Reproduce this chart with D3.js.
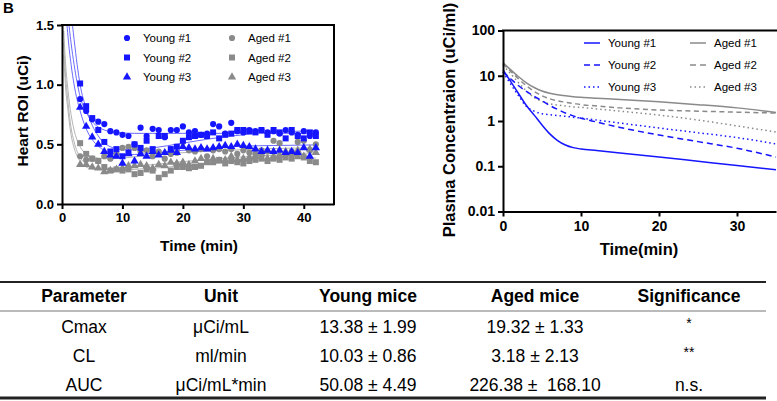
<!DOCTYPE html>
<html><head><meta charset="utf-8">
<script src="https://cdn.jsdelivr.net/npm/d3@7/dist/d3.min.js"></script>
<style>
body{margin:0;background:#fff;}
svg{display:block;font-family:"Liberation Sans",Arial,sans-serif;}
</style></head>
<body><svg id="c" width="777" height="401"></svg>
<script>
// ---------- Panel 1: Heart ROI ----------
const heartTime = [3,4,5,6,7,8,9,10,11,12,13,14,15,16,17,18,19,20,21,22,23,24,25,26,27,28,29,30,31,32,33,34,35,36,37,38,39,40,41,42];
const young1 = [0.88,0.78,0.71,0.69,0.67,0.61,0.60,0.58,0.57,0.50,0.64,0.57,0.63,0.62,0.56,0.62,0.62,0.65,0.60,0.61,0.58,0.59,0.67,0.65,0.59,0.68,0.61,0.60,0.62,0.61,0.62,0.60,0.61,0.59,0.62,0.60,0.58,0.61,0.57,0.60];
const young2 = [1.01,0.82,0.72,0.62,0.52,0.44,0.46,0.40,0.43,0.50,0.47,0.53,0.46,0.57,0.57,0.46,0.48,0.53,0.56,0.57,0.58,0.57,0.60,0.55,0.58,0.59,0.62,0.62,0.61,0.60,0.62,0.58,0.62,0.60,0.55,0.62,0.57,0.55,0.60,0.57];
const young3 = [0.81,0.65,0.56,0.50,0.44,0.41,0.40,0.34,0.42,0.36,0.42,0.40,0.44,0.41,0.43,0.45,0.43,0.48,0.47,0.46,0.47,0.46,0.47,0.48,0.49,0.48,0.50,0.49,0.48,0.46,0.44,0.45,0.44,0.45,0.43,0.44,0.43,0.47,0.40,0.47];
const aged1  = [0.40,0.37,0.38,0.36,0.40,0.38,0.42,0.47,0.48,0.47,0.44,0.45,0.40,0.44,0.38,0.42,0.43,0.52,0.45,0.44,0.46,0.40,0.45,0.46,0.44,0.46,0.42,0.45,0.43,0.42,0.45,0.44,0.53,0.51,0.42,0.44,0.52,0.53,0.45,0.50];
const aged2  = [0.51,0.42,0.38,0.36,0.31,0.28,0.29,0.28,0.29,0.25,0.26,0.29,0.28,0.22,0.25,0.28,0.31,0.31,0.30,0.31,0.32,0.35,0.35,0.37,0.34,0.36,0.35,0.34,0.36,0.37,0.38,0.36,0.38,0.37,0.39,0.38,0.40,0.39,0.36,0.35];
const aged3  = [0.33,0.33,0.31,0.30,0.27,0.28,0.29,0.30,0.32,0.32,0.33,0.32,0.30,0.33,0.32,0.35,0.34,0.35,0.33,0.36,0.38,0.35,0.38,0.36,0.37,0.40,0.37,0.38,0.39,0.40,0.42,0.38,0.40,0.41,0.44,0.42,0.45,0.40,0.46,0.43];

const fitTime = [0.3,0.5,1,1.5,2,3,4,5,6,7,8,10,12,15,20,25,30,35,42];
const young1Fit = [2.4,2.1,1.6,1.35,1.17,0.90,0.77,0.69,0.645,0.62,0.605,0.595,0.592,0.592,0.592,0.592,0.592,0.592,0.592];
const young2Fit = [2.9,2.6,2.0,1.62,1.38,1.0,0.80,0.66,0.57,0.51,0.48,0.455,0.455,0.47,0.51,0.55,0.58,0.60,0.615];
const young3Fit = [2.0,1.75,1.4,1.17,1.0,0.78,0.63,0.54,0.485,0.45,0.43,0.415,0.415,0.425,0.45,0.47,0.485,0.49,0.495];
const aged1Fit  = [1.45,1.25,0.95,0.75,0.62,0.48,0.42,0.395,0.385,0.38,0.38,0.385,0.395,0.41,0.43,0.445,0.455,0.465,0.47];
const aged2Fit  = [1.35,1.15,0.85,0.64,0.52,0.39,0.335,0.31,0.295,0.29,0.285,0.285,0.29,0.30,0.32,0.34,0.36,0.375,0.385];
const aged3Fit  = [1.25,1.05,0.78,0.58,0.47,0.36,0.31,0.295,0.29,0.29,0.295,0.305,0.315,0.33,0.355,0.375,0.395,0.41,0.43];

const heartXTicks = [0,10,20,30,40];
const heartYTicks = [0,0.5,1.0,1.5];
const seriesNames = ["Young #1","Young #2","Young #3","Aged #1","Aged #2","Aged #3"];

// ---------- Panel 2: Plasma concentration ----------
const plasmaTime = [0,1,2,3,4,5,6,7,8,9,10,12,15,20,25,30,35];
const pYoung1 = [13.4,7.4,4.0,2.2,1.35,0.82,0.52,0.37,0.295,0.258,0.24,0.222,0.197,0.16,0.129,0.104,0.084];
const pYoung2 = [12.2,8.5,6.0,4.5,3.5,2.8,2.2,1.8,1.5,1.3,1.15,0.95,0.72,0.49,0.35,0.25,0.16];
const pYoung3 = [12.0,6.5,3.6,2.1,1.65,1.45,1.38,1.32,1.27,1.21,1.16,1.05,0.9,0.7,0.55,0.43,0.31];
const pAged1  = [19.3,13.5,9.5,7.0,5.5,4.6,4.1,3.8,3.6,3.45,3.35,3.2,3.0,2.65,2.3,1.95,1.55];
const pAged2  = [18.5,12.5,8.5,6.0,4.5,3.6,3.1,2.8,2.6,2.45,2.3,2.15,1.95,1.75,1.65,1.57,1.5];
const pAged3  = [17.0,11.0,7.0,4.6,3.3,2.7,2.4,2.25,2.15,2.05,2.0,1.85,1.65,1.35,1.05,0.78,0.57];
const plasmaXTicks = [0,10,20,30];
const plasmaYTicks = [0.01,0.1,1,10,100];

// ---------- Table ----------
const tableHeader = ["Parameter","Unit","Young mice","Aged mice","Significance"];
const tableParams = ["Cmax","CL","AUC"];
const tableUnits  = ["μCi/mL","ml/min","μCi/mL*min"];
const tableYoung  = ["13.38 ± 1.99","10.03 ± 0.86","50.08 ± 4.49"];
const tableAged   = ["19.32 ± 1.33","3.18 ± 2.13","226.38 ±  168.10"];
const tableSig    = ["*","**","n.s."];

const BLUE = "#1515ff", BLUE_FIT = "#6a6aff", GRAY = "#8a8a8a", GRAY_FIT = "#b4b4b4";
const svg = d3.select("#c");

// Panel label
svg.append("text").attr("x",3).attr("y",13).attr("font-size",15).attr("font-weight","bold").text("B");

// ===== Left chart =====
const x1 = d3.scaleLinear().domain([0,45]).range([62,334]);
const y1 = d3.scaleLinear().domain([0,1.5]).range([204,25]);
const g1 = svg.append("g");
svg.append("defs").append("clipPath").attr("id","clip1").append("rect")
  .attr("x",62).attr("y",25).attr("width",272).attr("height",179);

const fitLine = d3.line().x(d=>x1(d[0])).y(d=>y1(d[1])).curve(d3.curveMonotoneX);
const fits = [[young1Fit,BLUE_FIT],[young2Fit,BLUE_FIT],[young3Fit,BLUE_FIT],[aged1Fit,GRAY_FIT],[aged2Fit,GRAY_FIT],[aged3Fit,GRAY_FIT]];
const plot1 = g1.append("g").attr("clip-path","url(#clip1)");
fits.forEach(([arr,col])=>{
  plot1.append("path").datum(fitTime.map((t,i)=>[t,arr[i]]))
    .attr("d",fitLine).attr("fill","none").attr("stroke",col).attr("stroke-width",1);
});
const symTypes = [d3.symbolCircle,d3.symbolSquare,d3.symbolTriangle];
const symSizes = [30,36,30];
const pts = [[aged1,GRAY,0],[aged2,GRAY,1],[aged3,GRAY,2],[young1,BLUE,0],[young2,BLUE,1],[young3,BLUE,2]];
pts.forEach(([arr,col,s])=>{
  plot1.append("g").selectAll("path").data(heartTime.map((t,i)=>[t,arr[i]])).join("path")
    .attr("transform",d=>`translate(${x1(d[0])},${y1(d[1])})`)
    .attr("d",d3.symbol().type(symTypes[s]).size(symSizes[s])).attr("fill",col);
});
// axes
const ax1 = g1.append("g").attr("transform","translate(0,204)")
  .call(d3.axisBottom(x1).tickValues(heartXTicks).tickSize(5).tickSizeOuter(0).tickPadding(4));
const ay1 = g1.append("g").attr("transform","translate(62,0)")
  .call(d3.axisLeft(y1).tickValues(heartYTicks).tickFormat(d3.format(".1f")).tickSize(5).tickSizeOuter(0).tickPadding(3));
[ax1,ay1].forEach(a=>{
  a.select(".domain").attr("stroke","#000").attr("stroke-width",2);
  a.selectAll(".tick line").attr("stroke","#000").attr("stroke-width",2);
  a.selectAll(".tick text").attr("font-size",13).attr("font-weight","bold").attr("fill","#000")
    .attr("font-family","Liberation Sans,Arial,sans-serif");
});
g1.append("line").attr("x1",61).attr("x2",335).attr("y1",25).attr("y2",25).attr("stroke","#000").attr("stroke-width",2);
g1.append("line").attr("x1",334).attr("x2",334).attr("y1",24).attr("y2",205).attr("stroke","#000").attr("stroke-width",2);
g1.append("text").attr("x",199).attr("y",251).attr("text-anchor","middle").attr("font-size",15.5).attr("font-weight","bold").text("Time (min)");
g1.append("text").attr("transform","translate(28,111) rotate(-90)").attr("text-anchor","middle").attr("font-size",15.5).attr("font-weight","bold").text("Heart ROI (uCi)");
// legend
const leg1 = g1.append("g");
seriesNames.forEach((n,i)=>{
  const col = i<3?0:1, row = i%3;
  const mx = col?232:127, ty = 38+row*19.5;
  leg1.append("path").attr("transform",`translate(${mx},${ty})`)
    .attr("d",d3.symbol().type(symTypes[row]).size(symSizes[row])).attr("fill",i<3?BLUE:GRAY);
  leg1.append("text").attr("x",mx+16).attr("y",ty+4).attr("font-size",11.5).text(n);
});

// ===== Right chart =====
const x2 = d3.scaleLinear().domain([0,35]).range([503,776]);
const y2 = d3.scaleLog().domain([0.01,100]).range([211.5,30.5]);
const g2 = svg.append("g");
const pLine = d3.line().x(d=>x2(d[0])).y(d=>y2(d[1])).curve(d3.curveMonotoneX);
const pSeries = [[pAged1,GRAY,null],[pAged2,GRAY,"5,3.5"],[pAged3,GRAY,"1.5,3"],[pYoung1,BLUE,null],[pYoung2,BLUE,"6,4"],[pYoung3,BLUE,"1.5,3"]];
pSeries.forEach(([arr,col,dash])=>{
  g2.append("path").datum(plasmaTime.map((t,i)=>[t,arr[i]])).attr("d",pLine)
    .attr("fill","none").attr("stroke",col).attr("stroke-width",1.5).attr("stroke-dasharray",dash);
});
const ax2 = g2.append("g").attr("transform","translate(0,211.5)")
  .call(d3.axisBottom(x2).tickValues(plasmaXTicks).tickSize(5).tickSizeOuter(0).tickPadding(5));
const ay2 = g2.append("g").attr("transform","translate(503,0)")
  .call(d3.axisLeft(y2).tickValues(plasmaYTicks).tickFormat(d3.format("~g")).tickSize(5).tickSizeOuter(0).tickPadding(3));
[ax2,ay2].forEach(a=>{
  a.select(".domain").attr("stroke","#000").attr("stroke-width",2);
  a.selectAll(".tick line").attr("stroke","#000").attr("stroke-width",2);
  a.selectAll(".tick text").attr("font-size",14).attr("font-weight","bold").attr("fill","#000")
    .attr("font-family","Liberation Sans,Arial,sans-serif");
});
g2.append("line").attr("x1",502).attr("x2",777).attr("y1",30.5).attr("y2",30.5).attr("stroke","#000").attr("stroke-width",2);
g2.append("text").attr("x",639).attr("y",255).attr("text-anchor","middle").attr("font-size",16.5).attr("font-weight","bold").text("Time(min)");
g2.append("text").attr("transform","translate(455,120) rotate(-90)").attr("text-anchor","middle").attr("font-size",16.5).attr("font-weight","bold").text("Plasma Concentraion (uCi/ml)");
const dashes = [null,"6,4","1.5,3"];
seriesNames.forEach((n,i)=>{
  const col = i<3?0:1, row = i%3;
  const lx = col?690:584, ty = 43+row*22;
  g2.append("line").attr("x1",lx).attr("x2",lx+16).attr("y1",ty).attr("y2",ty)
    .attr("stroke",i<3?BLUE:GRAY).attr("stroke-width",1.5).attr("stroke-dasharray",dashes[row]);
  g2.append("text").attr("x",lx+24).attr("y",ty+4).attr("font-size",11.5).text(n);
});

// ===== Table =====
const tg = svg.append("g").attr("font-size",17.5);
const colX = [84,221,368,535,689];
tg.append("line").attr("x1",0).attr("x2",766).attr("y1",282).attr("y2",282).attr("stroke","#222").attr("stroke-width",2);
tg.append("line").attr("x1",0).attr("x2",766).attr("y1",311).attr("y2",311).attr("stroke","#777").attr("stroke-width",1);
tg.append("line").attr("x1",0).attr("x2",766).attr("y1",398).attr("y2",398).attr("stroke","#222").attr("stroke-width",3);
tableHeader.forEach((h,i)=>{
  tg.append("text").attr("x",colX[i]).attr("y",302).attr("text-anchor","middle").attr("font-weight","bold").text(h);
});
const rowY = [333,362,391];
const rows = tableParams.map((p,i)=>[p,tableUnits[i],tableYoung[i],tableAged[i],tableSig[i]]);
rows.forEach((r,ri)=>{
  r.forEach((c,ci)=>{
    tg.append("text").attr("x",colX[ci]).attr("y",ci===4 && ri<2 ? rowY[ri]-5 : rowY[ri]).attr("text-anchor","middle")
      .attr("font-size",ci===4 && ri<2 ? 14 : 17.5)
      .style("white-space","pre").text(c);
  });
});
</script></body></html>
